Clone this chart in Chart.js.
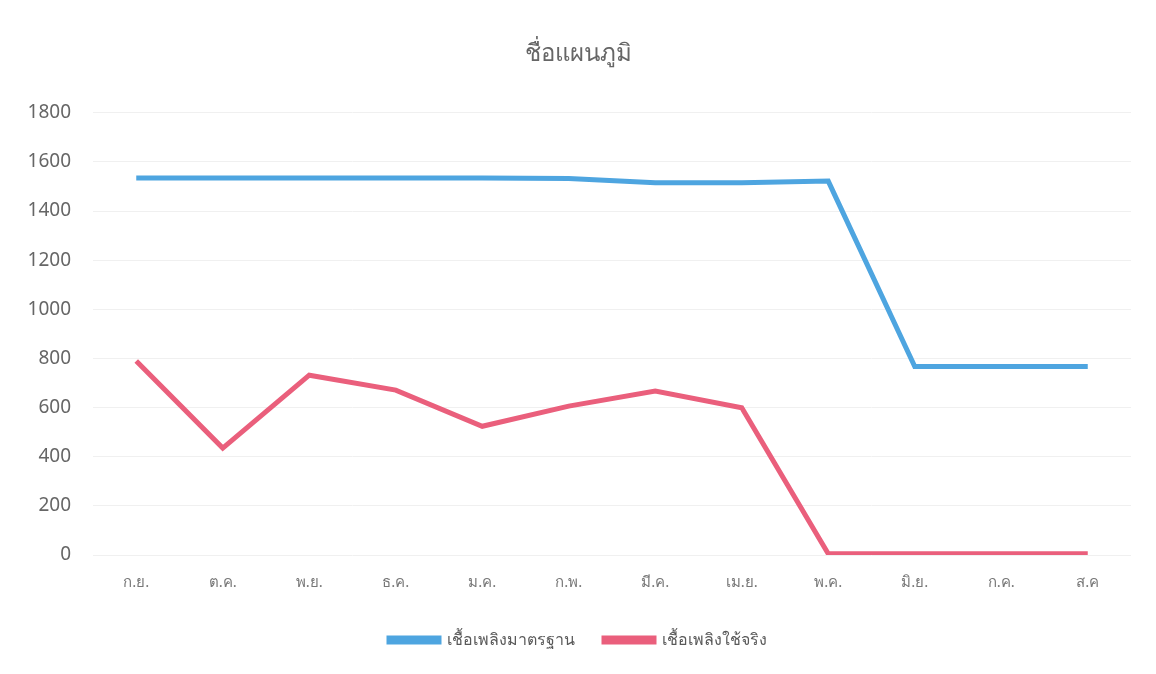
<!DOCTYPE html>
<html>
<head>
<meta charset="utf-8">
<script src="https://cdn.jsdelivr.net/npm/chart.js@4.4.1/dist/chart.umd.min.js"></script>
<style>
    html, body { margin: 0; padding: 0; background: #fff; }
    #wrap { width: 1156px; height: 674px; position: relative; }
</style>
</head>
<body>
<div id="wrap"><canvas id="chart"></canvas></div>
<script>
const months = ['ก.ย.', 'ต.ค.', 'พ.ย.', 'ธ.ค.', 'ม.ค.', 'ก.พ.', 'มี.ค.', 'เม.ย.', 'พ.ค.', 'มิ.ย.', 'ก.ค.', 'ส.ค'];
const standardFuel = [1535, 1535, 1535, 1535, 1535, 1533, 1515, 1515, 1522, 767, 767, 767];
const actualFuel = [790, 435, 732, 671, 524, 606, 667, 599, 5, 5, 5, 5];
const seriesNames = ['เชื้อเพลิงมาตรฐาน', 'เชื้อเพลิงใช้จริง'];
const chartTitle = 'ชื่อแผนภูมิ';

const font = "'Noto Sans', 'Open Sans', sans-serif";

const ctx = document.getElementById('chart').getContext('2d');
new Chart(ctx, {
    type: 'line',
    data: {
        labels: months,
        datasets: [
            {
                label: seriesNames[0],
                data: standardFuel,
                borderColor: '#4ea5e0',
                backgroundColor: '#4ea5e0',
                borderWidth: 5,
                pointRadius: 0,
                tension: 0
            },
            {
                label: seriesNames[1],
                data: actualFuel,
                borderColor: '#ea5f7c',
                backgroundColor: '#ea5f7c',
                borderWidth: 5,
                pointRadius: 0,
                tension: 0
            }
        ]
    },
    options: {
        responsive: true,
        maintainAspectRatio: false,
        animation: false,
        layout: { padding: { left: 25, right: 25, top: 40, bottom: 16 } },
        plugins: {
            title: {
                display: true,
                text: chartTitle,
                color: '#666',
                font: { family: font, size: 24, weight: 'normal' },
                padding: { top: 0, bottom: 44 }
            },
            legend: {
                position: 'bottom',
                labels: {
                    color: '#595959',
                    font: { family: font, size: 16 },
                    boxWidth: 50,
                    boxHeight: 4,
                    padding: 29
                }
            },
            tooltip: { enabled: false }
        },
        scales: {
            x: {
                offset: true,
                grid: { display: false },
                border: { display: false },
                ticks: {
                    color: '#777',
                    font: { family: font, size: 15 },
                    padding: 11
                }
            },
            y: {
                min: 0,
                max: 1800,
                afterFit: scale => { scale.width = 68; },
                ticks: {
                    stepSize: 200,
                    color: '#666',
                    font: { family: font, size: 19 },
                    padding: 22,
                    callback: v => String(v)
                },
                border: { display: false },
                grid: {
                    color: '#f0f0f0',
                    drawTicks: false
                }
            }
        }
    }
});
</script>
</body>
</html>
